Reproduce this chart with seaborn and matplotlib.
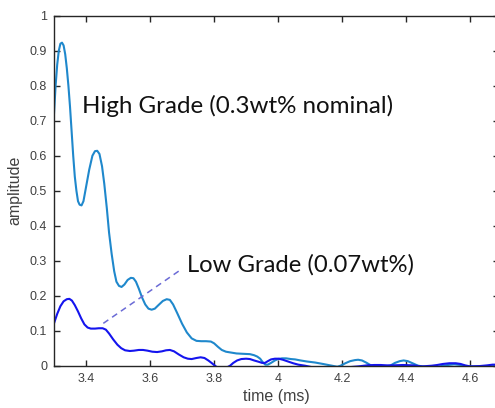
import numpy as np
import pandas as pd
import matplotlib
matplotlib.use("Agg")
import matplotlib.pyplot as plt
import seaborn as sns

# ---- data ----
high_t = [3.300, 3.305, 3.310, 3.315, 3.320, 3.325, 3.330, 3.335, 3.340, 3.345,
          3.350, 3.355, 3.360, 3.365, 3.370, 3.375, 3.380, 3.386, 3.392, 3.400,
          3.410, 3.420, 3.428, 3.435, 3.442, 3.450, 3.457, 3.465, 3.472, 3.480,
          3.488, 3.495, 3.503, 3.511, 3.520, 3.530, 3.540, 3.548, 3.556, 3.565,
          3.575, 3.585, 3.595, 3.605, 3.615, 3.625, 3.640, 3.652, 3.662, 3.672,
          3.685, 3.700, 3.715, 3.730, 3.745, 3.760, 3.775, 3.790, 3.800, 3.812,
          3.824, 3.837, 3.850, 3.870, 3.890, 3.912, 3.925, 3.935, 3.944, 3.952,
          3.960, 3.968, 3.978, 3.990, 4.000, 4.012, 4.025, 4.040, 4.053, 4.070,
          4.090, 4.116, 4.140, 4.168, 4.185, 4.195, 4.210, 4.225, 4.240, 4.250,
          4.262, 4.275, 4.288, 4.300, 4.320, 4.335, 4.350, 4.365, 4.380, 4.392,
          4.405, 4.420, 4.437, 4.460, 4.500, 4.515, 4.530, 4.550, 4.570, 4.590,
          4.650, 4.690]
high_amp = [0.720, 0.800, 0.860, 0.900, 0.920, 0.923, 0.915, 0.890, 0.850, 0.800,
            0.740, 0.670, 0.600, 0.540, 0.500, 0.470, 0.460, 0.458, 0.470, 0.510,
            0.560, 0.600, 0.613, 0.614, 0.605, 0.570, 0.520, 0.450, 0.380, 0.320,
            0.270, 0.240, 0.228, 0.225, 0.232, 0.245, 0.251, 0.250, 0.240, 0.220,
            0.195, 0.175, 0.163, 0.160, 0.163, 0.172, 0.185, 0.190, 0.188, 0.175,
            0.150, 0.120, 0.095, 0.078, 0.071, 0.070, 0.070, 0.069, 0.064, 0.054,
            0.045, 0.040, 0.038, 0.035, 0.034, 0.033, 0.030, 0.026, 0.020, 0.010,
            0.003, 0.003, 0.008, 0.015, 0.019, 0.021, 0.021, 0.019, 0.018, 0.015,
            0.012, 0.009, 0.005, 0.000, -0.003, 0.000, 0.007, 0.013, 0.016, 0.017,
            0.015, 0.009, 0.002, -0.003, -0.005, -0.002, 0.000, 0.008, 0.013, 0.015,
            0.013, 0.007, 0.000, -0.003, -0.003, 0.000, 0.002, 0.004, 0.002, -0.002,
            -0.003, 0.000]

low_t = [3.300, 3.310, 3.320, 3.330, 3.340, 3.348, 3.356, 3.365, 3.375, 3.385,
         3.395, 3.405, 3.415, 3.428, 3.440, 3.452, 3.462, 3.472, 3.485, 3.498,
         3.510, 3.522, 3.537, 3.550, 3.565, 3.578, 3.592, 3.607, 3.622, 3.637,
         3.650, 3.662, 3.675, 3.690, 3.705, 3.718, 3.730, 3.745, 3.758, 3.770,
         3.782, 3.792, 3.800, 3.810, 3.825, 3.840, 3.850, 3.860, 3.872, 3.885,
         3.900, 3.912, 3.925, 3.940, 3.950, 3.959, 3.968, 3.978, 3.990, 4.002,
         4.015, 4.031, 4.047, 4.063, 4.084, 4.110, 4.150, 4.200, 4.250, 4.278,
         4.300, 4.320, 4.340, 4.360, 4.390, 4.420, 4.450, 4.480, 4.497, 4.515,
         4.535, 4.555, 4.570, 4.584, 4.600, 4.630, 4.653, 4.670, 4.690]
low_amp = [0.121, 0.148, 0.170, 0.184, 0.190, 0.191, 0.186, 0.173, 0.155, 0.135,
           0.118, 0.109, 0.106, 0.106, 0.107, 0.107, 0.103, 0.092, 0.075, 0.060,
           0.050, 0.044, 0.042, 0.043, 0.045, 0.045, 0.043, 0.040, 0.039, 0.041,
           0.044, 0.045, 0.041, 0.032, 0.024, 0.020, 0.019, 0.022, 0.024, 0.022,
           0.015, 0.008, 0.002, -0.005, -0.009, -0.005, 0.000, 0.008, 0.015, 0.019,
           0.020, 0.019, 0.015, 0.011, 0.008, 0.008, 0.013, 0.018, 0.020, 0.020,
           0.017, 0.012, 0.007, 0.003, 0.000, -0.005, -0.008, -0.006, -0.002, 0.001,
           0.002, 0.002, 0.001, 0.001, 0.002, 0.001, -0.002, 0.000, 0.002, 0.005,
           0.007, 0.007, 0.005, 0.001, -0.002, -0.001, 0.001, 0.003, 0.003]

x_ticks = [3.4, 3.6, 3.8, 4.0, 4.2, 4.4, 4.6]
x_tick_labels = ["3.4", "3.6", "3.8", "4", "4.2", "4.4", "4.6"]
y_ticks = [0, 0.1, 0.2, 0.3, 0.4, 0.5, 0.6, 0.7, 0.8, 0.9, 1.0]
y_tick_labels = ["0", "0.1", "0.2", "0.3", "0.4", "0.5", "0.6", "0.7", "0.8", "0.9", "1"]

high_label = "High Grade (0.3wt% nominal)"
low_label = "Low Grade (0.07wt%)"
arrow_start = (3.454, 0.121)
arrow_end = (3.694, 0.273)

# ---- styling ----
sns.set_style("white")
plt.rcParams['font.family'] = ['Liberation Sans', 'DejaVu Sans']

fig = plt.figure(figsize=(4.95, 4.08), dpi=100)
ax = fig.add_axes([54 / 495, (408 - 365.7) / 408, (499 - 54) / 495, 350 / 408])

df_high = pd.DataFrame({"time": high_t, "amp": high_amp})
df_low = pd.DataFrame({"time": low_t, "amp": low_amp})

sns.lineplot(data=df_high, x="time", y="amp", ax=ax, color="#1f88cc",
             linewidth=1.5, sort=False, estimator=None)
sns.lineplot(data=df_low, x="time", y="amp", ax=ax, color="#1414ee",
             linewidth=1.5, sort=False, estimator=None)

ax.plot([arrow_start[0], arrow_end[0]], [arrow_start[1], arrow_end[1]],
        linestyle=(0, (4, 3)), color="#6b6bd6", linewidth=1.1)

ax.text(3.3875, 0.743, high_label, fontsize=17.4, family=['Lato', 'DejaVu Sans'],
        va='center', ha='left', color='#111111')
ax.text(3.7156, 0.287, low_label, fontsize=17.2, family=['Lato', 'DejaVu Sans'],
        va='center', ha='left', color='#111111')

ax.set_xlim(3.3, 4.69)
ax.set_ylim(0, 1)
ax.set_xticks(x_ticks)
ax.set_xticklabels(x_tick_labels)
ax.set_yticks(y_ticks)
ax.set_yticklabels(y_tick_labels)

ax.tick_params(direction='in', length=4, width=1, colors='#262626',
               labelsize=9, labelcolor='#404040', top=True, right=True,
               left=True, bottom=True, pad=5)
for s in ax.spines.values():
    s.set_color('#262626')
    s.set_linewidth(1.0)
    s.set_visible(True)

ax.set_xlabel("time (ms)", fontsize=11.5, color='#404040', labelpad=3)
ax.set_ylabel("amplitude", fontsize=11.5, color='#404040', labelpad=5)

fig.savefig("out.png", dpi=100)
